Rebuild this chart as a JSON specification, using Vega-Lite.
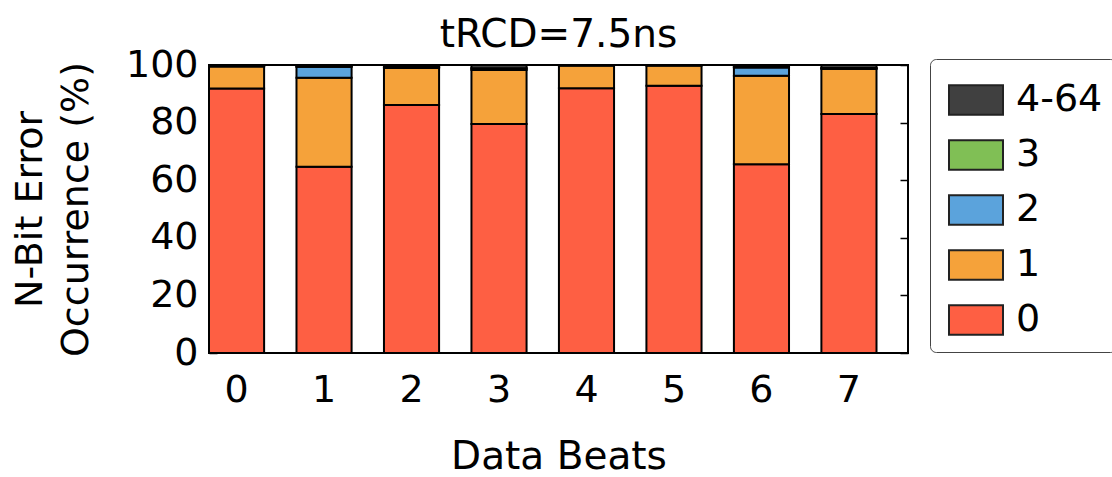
{
  "$schema": "https://vega.github.io/schema/vega-lite/v6.json",
  "width": 699,
  "height": 288,
  "autosize": {"type": "none"},
  "padding": {"left": 209, "top": 65, "right": 204, "bottom": 124},
  "background": "white",
  "title": {"text": "tRCD=7.5ns", "fontSize": 39, "font": "DejaVu Sans", "fontWeight": "normal", "color": "#000", "offset": -9, "anchor": "middle"},
  "config": {
    "font": "DejaVu Sans",
    "view": {"stroke": "#000", "strokeWidth": 2},
    "axis": {"labelFont": "DejaVu Sans", "titleFont": "DejaVu Sans", "labelColor": "#000", "titleColor": "#000", "titleFontWeight": "normal", "domain": false, "grid": false, "tickColor": "#000", "tickWidth": 1.5, "zindex": 1}
  },
  "data": {
    "values": [
      {"beat": "0", "bits": "0", "k": 0, "pct": 91.8},
      {"beat": "0", "bits": "1", "k": 1, "pct": 7.7},
      {"beat": "0", "bits": "2", "k": 2, "pct": 0.2},
      {"beat": "0", "bits": "3", "k": 3, "pct": 0.05},
      {"beat": "0", "bits": "4-64", "k": 4, "pct": 0.25},
      {"beat": "1", "bits": "0", "k": 0, "pct": 64.7},
      {"beat": "1", "bits": "1", "k": 1, "pct": 30.9},
      {"beat": "1", "bits": "2", "k": 2, "pct": 3.8},
      {"beat": "1", "bits": "3", "k": 3, "pct": 0.1},
      {"beat": "1", "bits": "4-64", "k": 4, "pct": 0.5},
      {"beat": "2", "bits": "0", "k": 0, "pct": 86.1},
      {"beat": "2", "bits": "1", "k": 1, "pct": 12.9},
      {"beat": "2", "bits": "2", "k": 2, "pct": 0.2},
      {"beat": "2", "bits": "3", "k": 3, "pct": 0.1},
      {"beat": "2", "bits": "4-64", "k": 4, "pct": 0.7},
      {"beat": "3", "bits": "0", "k": 0, "pct": 79.5},
      {"beat": "3", "bits": "1", "k": 1, "pct": 18.8},
      {"beat": "3", "bits": "2", "k": 2, "pct": 0.5},
      {"beat": "3", "bits": "3", "k": 3, "pct": 0.1},
      {"beat": "3", "bits": "4-64", "k": 4, "pct": 1.1},
      {"beat": "4", "bits": "0", "k": 0, "pct": 91.9},
      {"beat": "4", "bits": "1", "k": 1, "pct": 7.9},
      {"beat": "4", "bits": "2", "k": 2, "pct": 0.1},
      {"beat": "4", "bits": "3", "k": 3, "pct": 0.0},
      {"beat": "4", "bits": "4-64", "k": 4, "pct": 0.1},
      {"beat": "5", "bits": "0", "k": 0, "pct": 92.8},
      {"beat": "5", "bits": "1", "k": 1, "pct": 7.0},
      {"beat": "5", "bits": "2", "k": 2, "pct": 0.1},
      {"beat": "5", "bits": "3", "k": 3, "pct": 0.0},
      {"beat": "5", "bits": "4-64", "k": 4, "pct": 0.1},
      {"beat": "6", "bits": "0", "k": 0, "pct": 65.5},
      {"beat": "6", "bits": "1", "k": 1, "pct": 30.8},
      {"beat": "6", "bits": "2", "k": 2, "pct": 2.8},
      {"beat": "6", "bits": "3", "k": 3, "pct": 0.2},
      {"beat": "6", "bits": "4-64", "k": 4, "pct": 0.7},
      {"beat": "7", "bits": "0", "k": 0, "pct": 83.0},
      {"beat": "7", "bits": "1", "k": 1, "pct": 15.6},
      {"beat": "7", "bits": "2", "k": 2, "pct": 0.3},
      {"beat": "7", "bits": "3", "k": 3, "pct": 0.1},
      {"beat": "7", "bits": "4-64", "k": 4, "pct": 1.0}
    ]
  },
  "layer": [
    {
      "mark": {"type": "bar", "stroke": "#000", "strokeWidth": 2},
      "encoding": {
        "x": {
          "field": "beat", "type": "nominal",
          "scale": {"paddingInner": 0.37, "paddingOuter": 0.18, "align": 0},
          "axis": {"title": "Data Beats", "labelAngle": 0, "ticks": false, "labelFontSize": 38, "labelPadding": 18, "titleFontSize": 39, "titlePadding": 28}
        },
        "y": {
          "field": "pct", "type": "quantitative", "stack": "zero",
          "scale": {"domain": [0, 100], "nice": false},
          "axis": {"title": ["N-Bit Error", "Occurrence (%)"], "values": [0, 20, 40, 60, 80, 100], "tickSize": -8, "labelPadding": 19, "labelFontSize": 38, "titleFontSize": 38, "titleLineHeight": 46, "titlePadding": 30}
        },
        "color": {
          "field": "bits", "type": "nominal",
          "scale": {"domain": ["4-64", "3", "2", "1", "0"], "range": ["#404040", "#80bf55", "#5ba3dc", "#f5a23a", "#fe5f43"]},
          "legend": {
            "orient": "none", "legendX": 721, "legendY": -6, "title": null,
            "symbolType": "M-1,-0.55L1,-0.55L1,0.55L-1,0.55Z", "symbolSize": 2916,
            "symbolStrokeColor": "#222", "symbolStrokeWidth": 2, "symbolOpacity": 1, "symbolOffset": 5,
            "labelFontSize": 38, "labelFont": "DejaVu Sans", "labelColor": "#000", "labelOffset": 12,
            "rowPadding": 8, "padding": 13,
            "strokeColor": "#444", "cornerRadius": 6, "fillColor": "white"
          }
        },
        "order": {"field": "k", "type": "quantitative"}
      }
    },
    {
      "mark": {"type": "rule", "stroke": "#000", "strokeWidth": 2},
      "encoding": {
        "y": {"datum": 0, "type": "quantitative", "axis": {"orient": "right", "labels": false, "title": null, "values": [0, 20, 40, 60, 80, 100], "tickSize": -8}}
      }
    }
  ],
  "resolve": {"axis": {"y": "independent"}}
}
